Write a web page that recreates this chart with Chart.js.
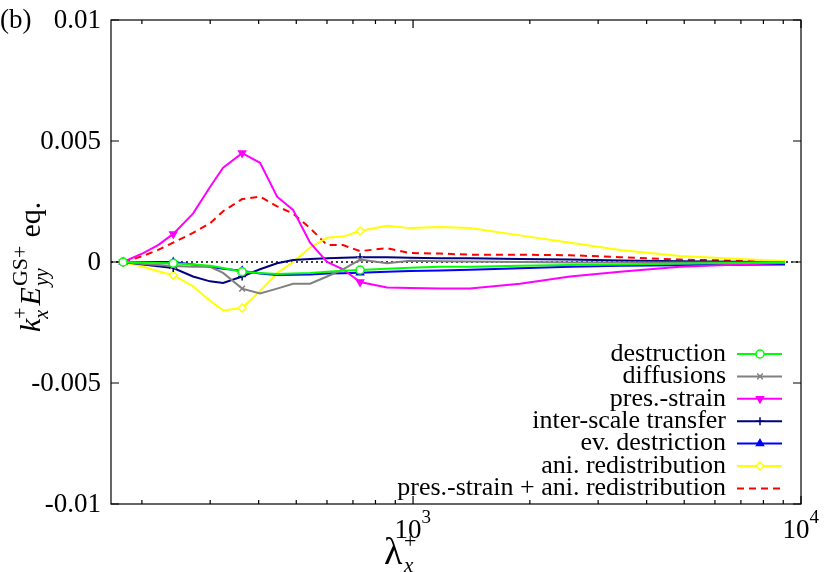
<!DOCTYPE html>
<html><head><meta charset="utf-8">
<script src="https://cdn.jsdelivr.net/npm/chart.js@4"></script>
<style>html,body{margin:0;padding:0;background:#fff}#c{display:block}</style>
</head><body>
<div style="width:830px;height:572px"><canvas id="c" width="830" height="572"></canvas></div>
<script>
const lambdaX = [178.9,201.5,220.2,240.9,270.9,299.7,323.9,362.6,403.3,446.2,490.7,542.7,600.3,660.1,730.2,857.0,982,1174,1402,1886,2540,3416,4877,6962,9095];
const destruction = [0,-0.00002,-0.00004,-0.00005,-0.0001,-0.00015,-0.00025,-0.0004,-0.00045,-0.0005,-0.00048,-0.00045,-0.0004,-0.00036,-0.00033,-0.00028,-0.00024,-0.0002,-0.0002,-0.00016,-0.00012,-0.0001,-0.00006,-0.00004,-0.00002];
const diffusions = [0,-0.00008,-0.00012,-0.00017,-0.0002,-0.0002,-0.00045,-0.0011,-0.0013,-0.0011,-0.0009,-0.0009,-0.0006,-0.0003,0.0001,-0.00005,0.00005,0.00003,0.00002,0,-0.00002,-0.00002,-0.00002,-0.00002,-0.00001];
const presStrain = [0,0.00037,0.0007,0.00116,0.002,0.0031,0.0039,0.0045,0.0041,0.0027,0.00215,0.0008,0,-0.0003,-0.00083,-0.00105,-0.00107,-0.0011,-0.0011,-0.0009,-0.0006,-0.0004,-0.0002,-0.0001,-0.00004];
const interScale = [0,-0.0001,-0.00018,-0.00025,-0.0006,-0.0008,-0.00087,-0.0006,-0.0003,-0.00005,0.00008,0.00012,0.00016,0.00018,0.0002,0.0002,0.00018,0.00016,0.00016,0.00012,0.0001,0.00006,0.00003,0.00001,-0.00002];
const evDestr = [0,0,0,0,-0.0001,-0.0002,-0.00028,-0.00036,-0.00048,-0.00054,-0.00053,-0.00052,-0.00048,-0.00046,-0.00044,-0.0004,-0.00037,-0.00035,-0.00032,-0.00026,-0.0002,-0.00016,-0.00013,-0.00011,-0.0001];
const aniRedis = [0,-0.0002,-0.00038,-0.00054,-0.001,-0.0016,-0.0020,-0.0019,-0.0012,-0.00045,0,0.0006,0.001,0.00105,0.00128,0.0015,0.0014,0.00145,0.0014,0.0011,0.0008,0.0005,0.00025,0.00012,0.00004];
const presAni = [0,0.00025,0.0005,0.0008,0.0012,0.0016,0.0021,0.0026,0.0027,0.0023,0.002,0.0014,0.0007,0.0007,0.00045,0.00057,0.00037,0.00035,0.0003,0.0003,0.00028,0.0002,0.0001,0.00005,0.00003];
const yTicks = [0.01,0.005,0,-0.005,-0.01];
const yTickLabels = ['0.01','0.005','0','-0.005','-0.01'];
const xMajor = [1000,10000];
const xMajorExp = ['3','4'];
const xMinor = [200,300,400,500,600,700,800,900,2000,3000,4000,5000,6000,7000,8000,9000];
const markerIdx = [0,3,7,14];

const series = [
 {label:'destruction',data:destruction,color:'#00ff00',style:'circle',fill:false,rot:0},
 {label:'diffusions',data:diffusions,color:'#808080',style:'crossRot',fill:false,rot:0},
 {label:'pres.-strain',data:presStrain,color:'#ff00ff',style:'triangle',fill:true,rot:180},
 {label:'inter-scale transfer',data:interScale,color:'#000080',style:'cross',fill:false,rot:0},
 {label:'ev. destriction',data:evDestr,color:'#0000ff',style:'triangle',fill:true,rot:0},
 {label:'ani. redistribution',data:aniRedis,color:'#ffff00',style:'rectRot',fill:false,rot:0},
 {label:'pres.-strain + ani. redistribution',data:presAni,color:'#ff0000',style:false,fill:false,rot:0,dash:[7,5]}
];
const F = 'Liberation Serif, Times New Roman, serif';
const datasets = series.map(s=>({
  label:s.label,
  data:lambdaX.map((x,i)=>({x:x,y:s.data[i]})),
  borderColor:s.color,borderWidth:2,borderDash:s.dash||[],
  pointStyle:s.style,pointRotation:s.rot,
  pointRadius:lambdaX.map((x,i)=>s.style&&markerIdx.includes(i)?4:0),
  pointBorderColor:s.color,pointBackgroundColor:s.fill?s.color:'#fff',pointBorderWidth:1.5,
  tension:0
}));

const deco = {
 id:'deco',
 beforeDatasetsDraw(ch){
   const c=ch.ctx,a=ch.chartArea,y=ch.scales.y;
   c.save();c.strokeStyle='#000';c.lineWidth=1.5;c.setLineDash([2,3]);
   const y0=y.getPixelForValue(0);c.beginPath();c.moveTo(a.left,y0);c.lineTo(a.right,y0);c.stroke();c.restore();
 },
 afterDraw(ch){
   const c=ch.ctx,a=ch.chartArea,x=ch.scales.x,y=ch.scales.y;
   c.save();c.strokeStyle='#000';c.lineWidth=1.2;
   c.strokeRect(a.left,a.top,a.right-a.left,a.bottom-a.top);
   c.beginPath();
   yTicks.forEach(v=>{const p=y.getPixelForValue(v);c.moveTo(a.left,p);c.lineTo(a.left+8,p);c.moveTo(a.right,p);c.lineTo(a.right-8,p);});
   xMajor.forEach(v=>{const p=x.getPixelForValue(v);c.moveTo(p,a.bottom);c.lineTo(p,a.bottom-8);c.moveTo(p,a.top);c.lineTo(p,a.top+8);});
   xMinor.forEach(v=>{const p=x.getPixelForValue(v);if(p<a.left)return;c.moveTo(p,a.bottom);c.lineTo(p,a.bottom-4);c.moveTo(p,a.top);c.lineTo(p,a.top+4);});
   c.stroke();
   c.fillStyle='#000';c.font='27px '+F;c.textAlign='right';c.textBaseline='middle';
   yTicks.forEach((v,i)=>c.fillText(yTickLabels[i],a.left-10,y.getPixelForValue(v)+1));
   c.textAlign='left';c.fillText('(b)',0,21);
   xMajor.forEach((v,i)=>{const p=x.getPixelForValue(v);c.font='27px '+F;c.textBaseline='alphabetic';
     const w=c.measureText('10').width;c.fillText('10',p-w/2-5,538);c.font='19px '+F;c.fillText(xMajorExp[i],p+w/2-5,523);});
   // x title
   c.font='38px '+F;c.textBaseline='alphabetic';c.fillText('λ',384,564);
   c.font='22px '+F;c.fillText('+',404,548);c.font='italic 21px '+F;c.fillText('x',404,572);
   // y title
   c.save();c.translate(40,332);c.rotate(-Math.PI/2);c.textBaseline='alphabetic';
   let px=0;const put=(t,f,dy)=>{c.font=f;c.fillText(t,px,dy);return c.measureText(t).width;};
   let w1=put('k','italic 30px '+F,0);px+=w1;
   let ws=put('+','20px '+F,-13);put('x','italic 20px '+F,8);px+=Math.max(ws,10)+2;
   px+=put('E','italic 30px '+F,0)+1;
   let w2=put('GS+','22px '+F,-13);put('yy','italic 20px '+F,8);px+=w2+8;
   put('eq.','30px '+F,0);
   c.restore();
   // legend
   series.forEach((s,i)=>{const ly=354+i*22.4;c.font='26px '+F;c.textAlign='right';c.textBaseline='middle';c.fillStyle='#000';
     c.fillText(s.label,726,ly);
     c.strokeStyle=s.color;c.lineWidth=2;c.setLineDash(s.dash||[]);c.beginPath();c.moveTo(737,ly);c.lineTo(782,ly);c.stroke();c.setLineDash([]);
     if(s.style){c.fillStyle=s.fill?s.color:'#fff';c.strokeStyle=s.color;c.lineWidth=1.5;
       Chart.helpers.drawPoint(c,{pointStyle:s.style,radius:4,rotation:s.rot,borderWidth:1.5},760,ly);}
   });
   c.restore();
 }
};
new Chart(document.getElementById('c'),{
 type:'line',
 data:{datasets},
 options:{responsive:false,animation:false,
  layout:{padding:{left:111,right:29,top:20,bottom:68}},
  plugins:{legend:{display:false},tooltip:{enabled:false}},
  scales:{
   x:{type:'logarithmic',min:166.5,max:10000,grid:{display:false},border:{display:false},ticks:{display:false},afterFit(s){s.height=0;}},
   y:{min:-0.01,max:0.01,grid:{display:false},border:{display:false},ticks:{display:false},afterFit(s){s.width=0;}}
  }},
 plugins:[deco]
});
</script></body></html>
